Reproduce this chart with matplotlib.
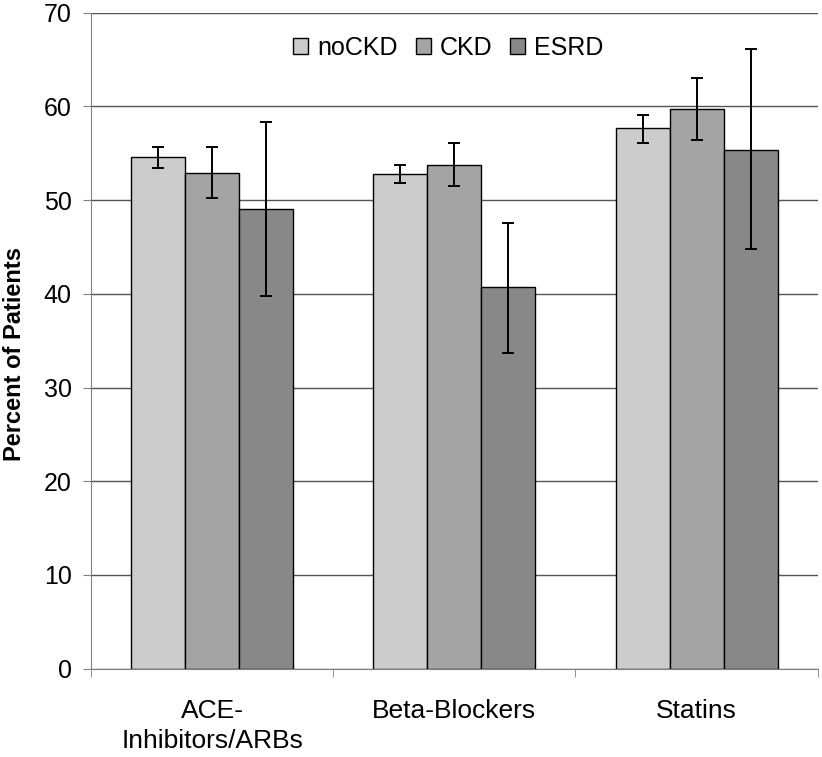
import matplotlib
matplotlib.use('Agg')
from matplotlib import pyplot as plt
import numpy as np

plt.rcParams['font.family'] = ['Liberation Sans', 'DejaVu Sans']

categories = ['ACE-\nInhibitors/ARBs', 'Beta-Blockers', 'Statins']
groups = ['noCKD', 'CKD', 'ESRD']
colors = ['#cccccc', '#a4a4a4', '#888888']

# percent of patients, with lower / upper error bar ends
values = {
    'noCKD': [54.6, 52.8, 57.7],
    'CKD':   [52.9, 53.8, 59.7],
    'ESRD':  [49.1, 40.7, 55.4],
}
err_low = {
    'noCKD': [53.4, 51.8, 56.1],
    'CKD':   [50.2, 51.5, 56.4],
    'ESRD':  [39.8, 33.7, 44.8],
}
err_high = {
    'noCKD': [55.7, 53.8, 59.1],
    'CKD':   [55.7, 56.1, 63.0],
    'ESRD':  [58.3, 47.6, 66.1],
}

fig = plt.figure(figsize=(8.22, 7.57), dpi=100)
ax = fig.add_axes([0.1107, 0.1167, 0.884, 0.8665])

x = np.arange(len(categories))
width = 0.223
for i, g in enumerate(groups):
    v = np.array(values[g])
    lo = v - np.array(err_low[g])
    hi = np.array(err_high[g]) - v
    ax.bar(x + (i - 1) * width, v, width, color=colors[i], edgecolor='black',
           linewidth=1, label=g, zorder=2,
           yerr=[lo, hi], capsize=4,
           error_kw=dict(ecolor='black', elinewidth=1.4, capthick=1.4, zorder=3))

ax.set_xlim(-0.5, 2.5)
ax.set_ylim(0, 70)
ax.set_yticks(range(0, 71, 10))
ax.yaxis.grid(True, color='#555555', linewidth=1, zorder=0)
ax.set_axisbelow(True)

ax.set_xticks(x)
ax.set_xticklabels(categories, fontsize=19, linespacing=1.3)
ax.set_xticks([-0.5, 0.5, 1.5, 2.5], minor=True)
ax.tick_params(axis='x', which='major', length=0, pad=22)
ax.tick_params(axis='x', which='minor', length=6, color='#808080')
ax.tick_params(axis='y', length=6, color='#808080', labelsize=18, pad=8)

for s in ['top', 'right']:
    ax.spines[s].set_visible(False)
for s in ['left', 'bottom']:
    ax.spines[s].set_color('#808080')

ax.set_ylabel('Percent of Patients', fontsize=17, fontweight='bold')
ax.yaxis.set_label_coords(-0.089, 0.48)

ax.legend(loc='upper center', bbox_to_anchor=(0.492, 0.999), ncol=3, frameon=False,
          fontsize=18, handlelength=0.6, handleheight=0.6, handletextpad=0.36,
          columnspacing=0.72)

plt.savefig('out.png', dpi=100)
